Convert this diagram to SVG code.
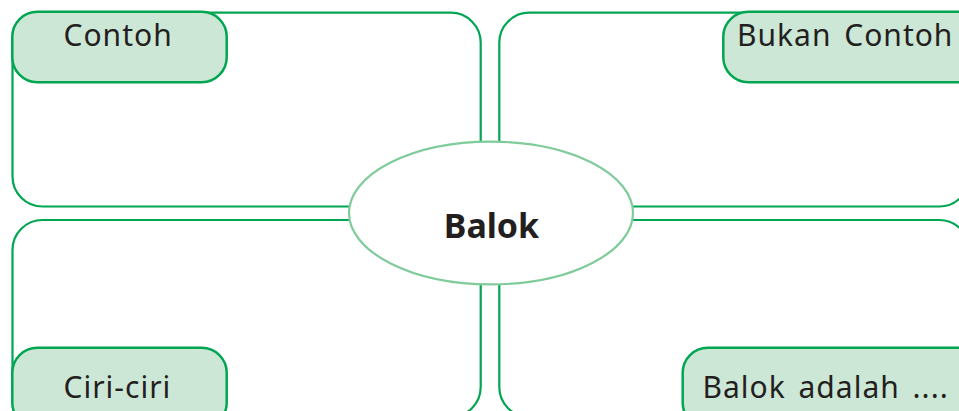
<svg xmlns="http://www.w3.org/2000/svg" width="959" height="411" viewBox="0 0 959 411">
<style>
.box{fill:none;stroke:#00a651;stroke-width:2.2}
.tab{fill:#cde7d6;stroke:#00a651;stroke-width:2.5}
.lbl{font-family:"Noto Sans","Open Sans",sans-serif;font-size:30px;fill:#231f20;letter-spacing:1px;word-spacing:4px}
.center{font-family:"Noto Sans","Open Sans",sans-serif;font-size:34px;font-weight:bold;fill:#231f20;text-anchor:middle}
</style>
<rect width="959" height="411" fill="#ffffff"/>
<g id="connectors">
<rect class="box" x="12.5" y="12.7" width="468.2" height="193.8" rx="30"/>
<rect class="box" x="499.3" y="12.7" width="470" height="193.8" rx="30"/>
<rect class="box" x="12.5" y="220" width="468.2" height="197" rx="30"/>
<rect class="box" x="499.3" y="220" width="470" height="197" rx="30"/>
</g>
<g id="node-balok">
<ellipse cx="491" cy="213" rx="142" ry="71.3" fill="#ffffff" stroke="#7fcb9a" stroke-width="2.2"/>
<text class="center" x="491.5" y="237.5">Balok</text>
</g>
<g id="node-contoh">
<rect class="tab" x="12.3" y="11.7" width="214.4" height="70.6" rx="25"/>
<text class="lbl" x="63.5" y="45.5">Contoh</text>
</g>
<g id="node-bukan-contoh">
<rect class="tab" x="723.3" y="11.7" width="260" height="70.6" rx="25"/>
<text class="lbl" x="737" y="45.5">Bukan Contoh</text>
</g>
<g id="node-ciri">
<rect class="tab" x="12.3" y="347.7" width="214.4" height="80" rx="25"/>
<text class="lbl" x="63.5" y="397.7">Ciri-ciri</text>
</g>
<g id="node-balok-adalah">
<rect class="tab" x="682.7" y="347.7" width="300" height="80" rx="25"/>
<text class="lbl" x="702.5" y="398.3">Balok adalah ....</text>
</g>
</svg>
